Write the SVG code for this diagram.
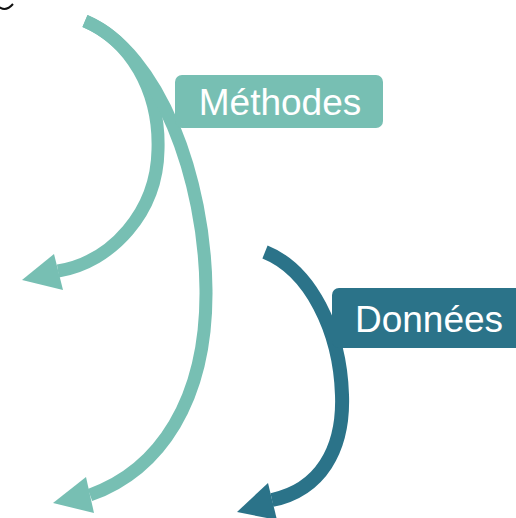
<svg xmlns="http://www.w3.org/2000/svg" width="516" height="518" viewBox="0 0 516 518">
<style>
.lt{fill:none;stroke:#77BFB3;stroke-linecap:butt}
.dk{fill:none;stroke:#2B7389;stroke-linecap:butt}
.lbl{font-family:"Liberation Sans",Arial,sans-serif;font-size:37px;fill:#ffffff;text-anchor:middle}
</style>
<rect width="516" height="518" fill="#ffffff"/>
<path d="M -1,7 Q 6,12 13,4" fill="none" stroke="#111" stroke-width="2"/>
<g id="connectors">
<path class="lt" stroke-width="13" d="M 85,21 C 130,40 160,90 158,150 C 157,212 112,262 58,271"/>
<polygon fill="#77BFB3" points="22,280 54,254 63,290"/>
<path class="lt" stroke-width="13" d="M 85,21 C 160,53 205,180 206,290 C 207,400 160,470 90,495"/>
<polygon fill="#77BFB3" points="53,503 86,477 94,513"/>
<path class="dk" stroke-width="14" d="M 265,252 C 310,270 340,330 342,395 C 344,450 320,490 272,500"/>
<polygon fill="#2B7389" points="237,512 268,483 277,520"/>
</g>
<g id="methodes">
<rect x="175" y="75" width="208" height="53" rx="7" fill="#77BFB3"/>
<text class="lbl" x="280" y="115">Méthodes</text>
</g>
<g id="donnees">
<rect x="332" y="288" width="195" height="60" rx="7" fill="#2B7389"/>
<text class="lbl" x="429" y="332">Données</text>
</g>
</svg>
